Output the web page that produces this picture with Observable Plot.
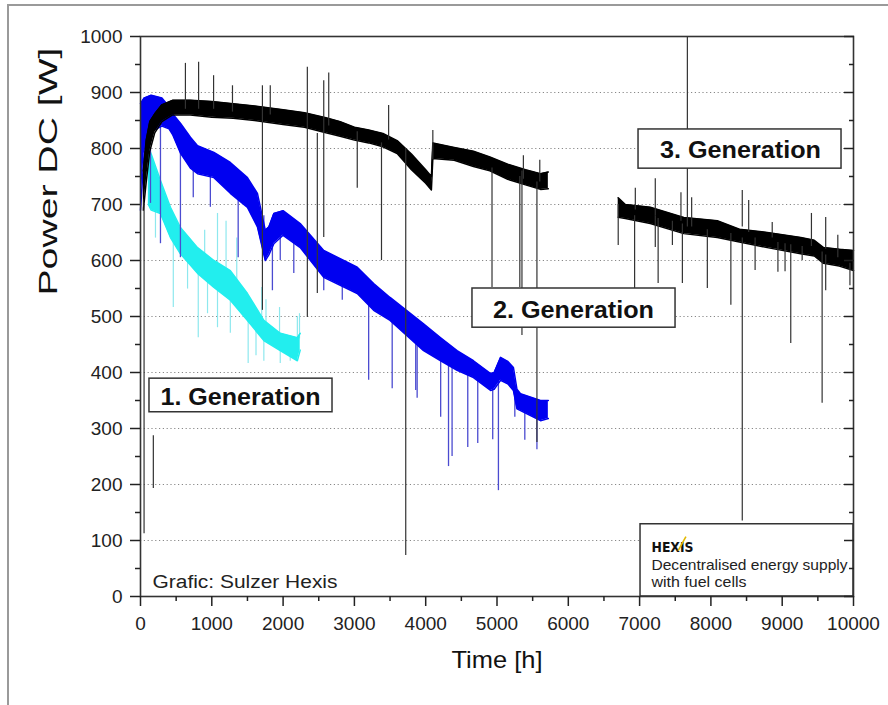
<!DOCTYPE html>
<html>
<head>
<meta charset="utf-8">
<script src="https://cdn.jsdelivr.net/npm/d3@7"></script>
<script src="https://cdn.jsdelivr.net/npm/@observablehq/plot@0.6"></script>
<style>
  html, body { margin: 0; padding: 0; background: #fff; }
  #wrap { position: relative; width: 888px; height: 705px; overflow: hidden; }
  #border { position: absolute; left: 7px; top: 4px; right: -4px; bottom: -4px; border-top: 2px solid #9a9a9a; border-left: 2px solid #9a9a9a; pointer-events: none; }
</style>
</head>
<body>
<div id="wrap"><div id="border"></div></div>
<script>
// ---- data: [time h, lower edge W, upper edge W] ----
const gen3Early = [
  [40,690,760],[80,740,815],[130,795,848],[200,828,862],[300,848,878],[450,860,886],
  [700,860,886],[1000,856,884],[1300,854,880],[1600,850,876],[2000,843,869],[2300,838,864],
  [2600,828,855],[2800,822,848],[3000,815,838],[3200,810,833],[3400,803,827],[3600,791,814],
  [3800,762,790],[4000,738,762],[4080,726,750],[4100,782,810],[4400,779,802],[4670,768,795],
  [4900,760,785],[5150,745,772],[5400,735,762],[5610,727,755],[5720,728,758]
];
const gen3Late = [
  [6700,677,712],[6800,675,700],[7150,666,695],[7620,648,677],[8090,641,671],[8400,633,656],
  [8790,623,650],[9260,612,641],[9450,608,636],[9580,595,623],[9800,590,620],[10000,582,618]
];
const gen2 = [
  [0,690,880],[50,790,890],[150,830,895],[300,840,890],[400,835,875],[450,825,862],[560,792,845],
  [700,765,820],[800,755,805],[1030,748,793],[1260,720,775],[1500,695,748],[1640,660,720],
  [1750,600,654],[1800,610,660],[1870,630,684],[2000,645,689],[2240,623,666],[2570,570,618],
  [3040,541,588],[3270,511,559],[3500,493,534],[3970,439,487],[4210,421,462],[4440,404,439],
  [4670,391,421],[4910,368,398],[4960,370,400],[5050,386,427],[5150,380,420],[5230,368,409],
  [5280,335,370],[5330,332,362],[5610,314,350],[5720,318,350]
];
const gen1 = [
  [110,700,802],[150,690,790],[280,684,743],[420,641,695],[560,612,659],[800,577,623],
  [1030,552,600],[1260,529,582],[1500,493,541],[1730,457,493],[1960,439,470],[2200,421,462],[2240,440,470]
];
// spikes: [time h, from W, to W]
const gen3Spikes = [
  [50,700,112],[180,287,193],[630,870,952],[815,870,954],[1025,870,930],[1290,865,912],
  [1710,912,511],[1820,860,912],[2340,945,498],[2480,827,541],[2570,921,641],[2640,840,935],
  [3040,830,729],[3380,810,600],[3480,815,877],[3720,800,73],[4100,780,832],[4930,765,552],
  [5320,750,552],[5350,760,466],[5370,745,787],[5560,740,275],[5600,740,779],
  [6700,700,627],[6930,680,550],[6940,690,729],[7220,680,746],[7220,680,623],[7260,675,559],
  [7460,670,627],[7580,670,721],[7600,665,559],[7670,660,1000],[7730,660,712],[7950,655,550],
  [8280,648,520],[8440,660,725],[8440,640,135],[8530,650,707],[8620,640,582],[8860,640,668],
  [8940,632,579],[9040,630,580],[9120,628,452],[9280,625,600],[9410,625,684],[9560,615,345],
  [9610,620,677],[9610,610,546],[9780,605,645],[9950,595,555]
];
const gen2Spikes = [
  [140,800,702],[280,840,630],[560,800,605],[740,770,712],[980,760,695],[1370,720,605],
  [1730,680,641],[1850,640,546],[1960,650,600],[2150,640,577],[2570,580,546],[2830,560,529],
  [3200,525,386],[3530,500,371],[3860,450,368],[3880,450,354],[4210,430,320],[4320,415,232],
  [4370,412,250],[4590,400,266],[4730,395,273],[4940,375,280],[5020,385,189],[5250,375,320],
  [5390,340,279],[5560,320,262]
];
const gen1Spikes = [
  [210,700,640],[460,650,516],[660,620,549],[810,590,462],[940,570,505],[1080,560,480],
  [1260,540,470],[1510,500,416],[1620,480,430],[1730,460,420],[1960,445,416],[2100,430,420],
  [900,600,654],[1080,590,684],[1200,580,670],[1350,555,640],[1700,490,552],[1760,485,530],
  [1950,465,516],[2200,460,500],[2230,460,505]
];
// axes ticks
const yMajor = [0,100,200,300,400,500,600,700,800,900,1000];
const yMinor = [50,150,250,350,450,550,650,750,850,950];
const yGrid = [100,200,300,400,500,600,700,800,900];
const xMajor = [0,1000,2000,3000,4000,5000,6000,7000,8000,9000,10000];
const xMinor = [500,1500,2500,3500,4500,5500,6500,7500,8500,9500];
// annotation boxes: [t1, t2, W1, W2]
const labelBoxes = [[126,2693,329,389],[4656,7504,480,550],[6985,9832,764,834],[7013,10000,0,129]];
const labelTexts = [
  {t:1403, w:355, text:"1. Generation"},
  {t:6073, w:511, text:"2. Generation"},
  {t:8415, w:796, text:"3. Generation"}
];
const infoTexts = [
  {t:7167, w:55, text:"Decentralised energy supply"},
  {t:7167, w:25, text:"with fuel cells"}
];
// yellow stroke of the HEXIS logo: [t1, W1, t2, W2]
const logoStroke = [[7540, 82, 7650, 107]];
// measured text widths in the picture (px)
const textWidths = {
  "Power DC [W]": 248, "Grafic: Sulzer Hexis": 185, "Decentralised energy supply": 196,
  "with fuel cells": 95, "1. Generation": 160, "2. Generation": 161, "3. Generation": 161,
  "Time [h]": 91, "HEXIS": 42
};

const rows = a => a.map(([t, lo, hi]) => ({t, lo, hi}));
const band = (a, color) => [
  Plot.areaY(rows(a), {x:"t", y1:"lo", y2:"hi", fill:color}),
  Plot.lineY(rows(a), {x:"t", y:"lo", stroke:color, strokeWidth:1.5}),
  Plot.lineY(rows(a), {x:"t", y:"hi", stroke:color, strokeWidth:1.5})
];
const spikes = (a, color, w) => Plot.ruleX(a, {x:d=>d[0], y1:d=>d[1], y2:d=>d[2], stroke:color, strokeWidth:w});
const ff = "'Liberation Sans', Arial, sans-serif";

const chart = Plot.plot({
  width: 888, height: 705,
  marginLeft: 140, marginRight: 35, marginTop: 36, marginBottom: 109,
  x: {domain: [0, 10000]},
  y: {domain: [0, 1000]},
  style: {fontFamily: ff, color: "#222", background: "transparent", overflow: "visible"},
  marks: [
    Plot.gridY(yGrid, {stroke:"#888", strokeOpacity:1, strokeDasharray:"1.2,2.6"}),
    spikes(gen1Spikes, "#8ee8ee", 1.2),
    ...band(gen1, "#22eeee"),
    spikes(gen2Spikes, "#4b4bd0", 1.3),
    ...band(gen2, "#0000f0"),
    ...band(gen3Early, "#000"),
    ...band(gen3Late, "#000"),
    spikes(gen3Spikes, "#333", 1.2),
    Plot.rect(labelBoxes, {x1:d=>d[0], x2:d=>d[1], y1:d=>d[2], y2:d=>d[3], fill:"#fff", stroke:"#333", strokeWidth:1.5}),
    Plot.text(labelTexts, {x:"t", y:"w", text:"text", fontSize:24, fontWeight:"bold", fill:"#111"}),
    Plot.text(infoTexts, {x:"t", y:"w", text:"text", fontSize:14.5, textAnchor:"start", fill:"#222"}),
    Plot.text(["HEXIS"], {x:7167, y:87, fontSize:14, fontWeight:"bold", textAnchor:"start", fill:"#111", fontFamily:"'DejaVu Sans Condensed', 'DejaVu Sans', sans-serif"}),
    Plot.link(logoStroke, {x1:d=>d[0], y1:d=>d[1], x2:d=>d[2], y2:d=>d[3], stroke:"#e2b800", strokeWidth:1.6}),
    Plot.text(["Grafic: Sulzer Hexis"], {x:168, y:25, fontSize:18, textAnchor:"start", fill:"#222"}),
    Plot.frame({stroke:"#333", strokeWidth:1.6}),
    Plot.axisY(yMajor, {anchor:"left", tickSize:10, tickPadding:8, fontSize:19, tickFormat:"d", label:null, strokeWidth:1.5}),
    Plot.axisY(yMinor, {anchor:"left", tickSize:5, text:null, label:null, strokeWidth:1.5}),
    Plot.axisY(yMajor, {anchor:"right", tickSize:10, dx:-10, text:null, label:null, strokeWidth:1.5}),
    Plot.axisY(yMinor, {anchor:"right", tickSize:5, dx:-5, text:null, label:null, strokeWidth:1.5}),
    Plot.axisX(xMajor, {anchor:"bottom", tickSize:10, tickPadding:10, fontSize:19, tickFormat:"d", label:null, strokeWidth:1.5}),
    Plot.axisX(xMinor, {anchor:"bottom", tickSize:5, text:null, label:null, strokeWidth:1.5}),
    Plot.text(["Power DC [W]"], {frameAnchor:"left", dx:-92, dy:-21, rotate:-90, fontSize:25, fill:"#111"}),
    Plot.text(["Time [h]"], {frameAnchor:"bottom", dy:71, fontSize:24, fill:"#111"})
  ]
});
chart.querySelectorAll("text").forEach(el => {
  const w = textWidths[el.textContent];
  if (w) { el.setAttribute("textLength", w); el.setAttribute("lengthAdjust", "spacingAndGlyphs"); }
});
document.getElementById("wrap").appendChild(chart);
chart.style.position = "absolute";
chart.style.left = "0px";
chart.style.top = "0px";
</script>
</body>
</html>
